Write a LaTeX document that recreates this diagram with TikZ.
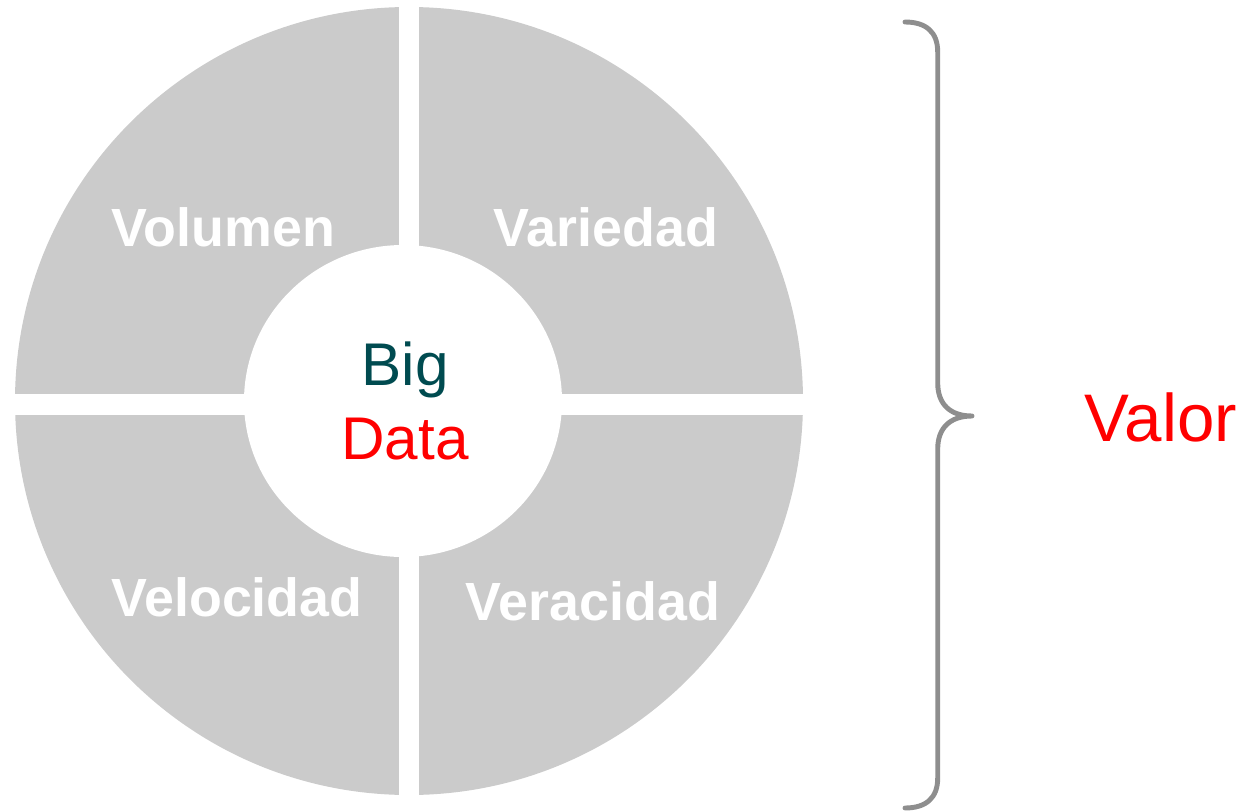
\documentclass[tikz,border=0pt]{standalone}
\usepackage{fontspec}
\setmainfont{Liberation Sans}
\usetikzlibrary{positioning,calc}

\definecolor{ringgray}{HTML}{CBCBCB}
\definecolor{bracegray}{HTML}{8E8E8E}
\definecolor{bigteal}{HTML}{004B50}

\begin{document}
\begin{tikzpicture}
  [
    x=0.02cm, y=-0.02cm,
    quarter label/.style={text=white, font=\fontsize{30.6}{31}\selectfont\bfseries, anchor=base},
    centre label/.style={font=\fontsize{34.3}{34}\selectfont, anchor=base},
  ]
  \useasboundingbox (0,0) rectangle (1243,811);

  \coordinate (ring) at (409,401);
  \coordinate (hole) at (403,401);

  % ring, hole and the two white cuts
  \fill[ringgray] (ring) circle (394);
  \fill[white] (hole) ellipse (159 and 156);
  \fill[white] (398.7,0) rectangle (419.3,811);
  \fill[white] (0,393.7) rectangle (811,415);

  \foreach \px / \py / \txt [count=\k] in {223.5/246.7/Volumen, 606/246.7/Variedad,
                                            237/616/Velocidad, 593/620/Veracidad}
    {
     \node[quarter label] (q\k) at (\px,\py) {\txt};
    }

  \node[centre label, text=bigteal] (big) at (405,385) {Big};
  \node[centre label, text=red] (data) at (405,459.3) {Data};

  % brace
  \coordinate (tip) at (972,416);
  \draw[bracegray, line width=2.8pt, line cap=round, line join=round]
    (905,22) .. controls (926,22) and (937.7,32) .. (937.7,52) -- (937.7,383)
    .. controls (937.7,404) and (950,416) .. (tip)
    .. controls (950,416) and (937.7,428) .. (937.7,449) -- (937.7,778)
    .. controls (937.7,798) and (926,808) .. (905,808);

  \node[font=\fontsize{38.3}{38}\selectfont, text=red, anchor=base] (valor) at (1161,441.7) {Valor};

  %\draw (0,0) grid[step=100] (1243,811);
\end{tikzpicture}
\end{document}
